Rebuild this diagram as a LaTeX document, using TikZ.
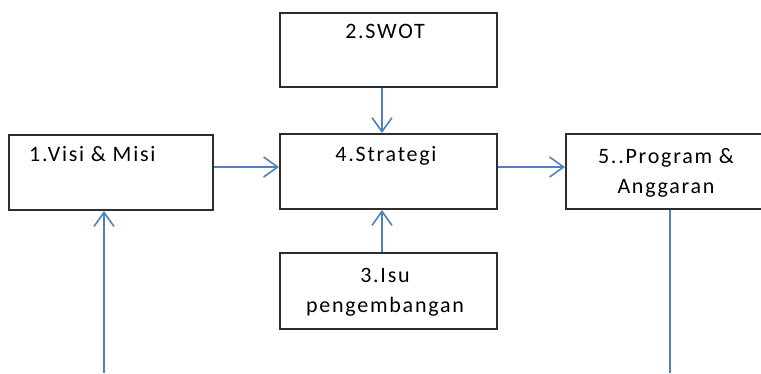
\documentclass[tikz,border=0pt]{standalone}
\usepackage{fontspec}
\setmainfont{Carlito}[LetterSpace=8]
\usetikzlibrary{arrows.meta}
\definecolor{flowblue}{RGB}{79,129,189}
\definecolor{boxline}{RGB}{45,45,45}
\begin{document}
\begin{tikzpicture}[x=1pt,y=-1pt,
  stepbox/.style={draw=boxline,line width=2pt,fill=white},
  lbl/.style={anchor=base,inner sep=0pt,font=\fontsize{22}{31}\selectfont,text=black},
  flow/.style={draw=flowblue,line width=1.8pt,
    -{Straight Barb[length=14pt,width=20pt,line width=1.6pt]}},
  plain/.style={draw=flowblue,line width=1.8pt}]
\useasboundingbox (0,0) rectangle (761,373);
\clip (0,0) rectangle (761,373);
% boxes
\node[stepbox,minimum width=204pt,minimum height=75pt,anchor=north west] (b1) at (8,134) {};
\node[stepbox,minimum width=217pt,minimum height=74pt,anchor=north west] (b2) at (279,12) {};
\node[stepbox,minimum width=217pt,minimum height=75pt,anchor=north west] (b4) at (279,133) {};
\node[stepbox,minimum width=217pt,minimum height=76pt,anchor=north west] (b3) at (279,252) {};
\node[stepbox,minimum width=205pt,minimum height=75pt,anchor=north west] (b5) at (565,133) {};
% labels
\node[lbl,anchor=base west] (t1) at (29,161) {1.Visi \& Misi};
\node[lbl] (t2) at (385,38) {2.SWOT};
\node[lbl] (t4) at (386,161) {4.Strategi};
\node[lbl] (t3a) at (385,282) {3.Isu};
\node[lbl] (t3b) at (385,312) {pengembangan};
\node[lbl] (t5a) at (666,163) {5..Program \&};
\node[lbl] (t5b) at (666,193) {Anggaran};
% connectors
\coordinate (low1) at (104,373);
\coordinate (low5) at (670,373);
\draw[flow] (b1.east |- 0,167) -- (b4.west |- 0,167);
\draw[flow] (b4.east |- 0,167) -- (b5.west |- 0,167);
\draw[flow] (b2.south -| 382,0) -- (b4.north -| 382,0);
\draw[flow] (b3.north -| 382,0) -- (b4.south -| 382,0);
\draw[flow] (low1) -- (b1.south -| low1);
\draw[plain] (b5.south -| low5) -- (low5);
\end{tikzpicture}
\end{document}
